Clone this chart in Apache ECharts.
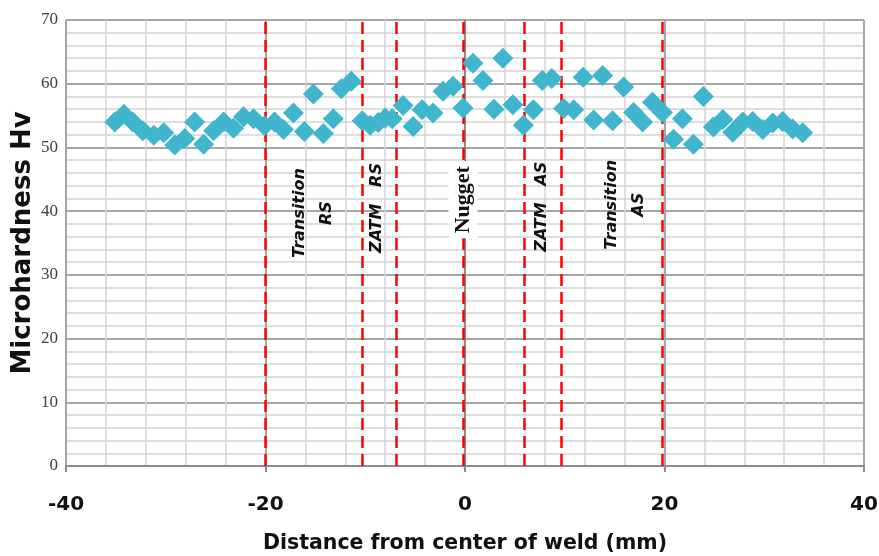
<!DOCTYPE html>
<html>
<head>
<meta charset="utf-8">
<script src="https://cdn.jsdelivr.net/npm/echarts@6/dist/echarts.min.js"></script>
<style>html,body{margin:0;padding:0;background:#fff;}#c{width:879px;height:556px;}</style>
</head>
<body>
<div id="c"></div>
<script>
// Measurement positions (mm from weld centre)
var distances = [-35.1,-34.2,-33.3,-32.3,-31.2,-30.2,-29.1,-28.1,-27.1,-26.2,-25.2,-24.2,-23.2,-22.2,-21.2,-20.1,-19.1,-18.2,-17.2,-16.1,-15.2,-14.2,-13.2,-12.4,-11.4,-10.3,-9.5,-8.7,-8.0,-7.3,-6.2,-5.2,-4.3,-3.2,-2.2,-1.2,-0.2,0.8,1.8,2.9,3.8,4.8,5.85,6.85,7.75,8.7,9.9,10.9,11.85,12.9,13.8,14.8,15.9,16.9,17.8,18.8,19.8,20.9,21.8,22.9,23.9,24.9,25.85,26.85,27.85,28.85,29.85,30.85,31.85,32.85,33.85];
// Microhardness values (Hv)
var hardness = [54.0,55.2,54.0,52.6,51.9,52.3,50.4,51.4,54.0,50.5,52.6,54.0,53.0,54.8,54.5,53.4,54.0,52.8,55.4,52.5,58.4,52.2,54.5,59.2,60.4,54.2,53.5,53.9,54.6,54.5,56.6,53.3,55.9,55.4,58.8,59.6,56.2,63.2,60.5,56.0,64.0,56.7,53.5,55.9,60.5,60.8,56.1,55.9,61.0,54.3,61.3,54.2,59.5,55.5,54.0,57.1,55.5,51.3,54.5,50.5,58.0,53.2,54.4,52.4,54.0,54.05,52.8,53.85,54.05,52.9,52.3];
// Zone boundaries (mm)
var boundaries = [-20, -10.3, -6.9, -0.2, 5.9, 9.6, 19.8];
// Zone annotations
var zoneTexts = ['Transition\nRS', 'ZATM   RS', 'Nugget', 'ZATM   AS', 'Transition\nAS'];
var zoneX = [-15.2, -8.8, -0.2, 7.7, 16.1];
var zoneY = [39.7, 40.5, 41.8, 40.7, 41.0];

var chart = echarts.init(document.getElementById('c'), null, {renderer: 'canvas'});
var points = distances.map(function (d, i) { return [d, hardness[i]]; });

chart.setOption({
  animation: false,
  backgroundColor: '#ffffff',
  grid: {left: 66, right: 15, top: 20, bottom: 90, containLabel: false, outerBoundsMode: 'none'},
  xAxis: {
    type: 'value', min: -40, max: 40, interval: 20,
    name: 'Distance from center of weld (mm)',
    nameLocation: 'middle', nameGap: 67, nameMoveOverlap: false,
    nameTextStyle: {fontFamily: 'DejaVu Sans', fontWeight: 'bold', fontSize: 20.5, color: '#111'},
    axisLine: {show: true, onZero: false, lineStyle: {color: '#8c8c8c', width: 2}},
    axisTick: {show: true, length: 6, lineStyle: {color: '#8c8c8c', width: 2}},
    axisLabel: {margin: 29, fontFamily: 'DejaVu Sans', fontWeight: 'bold', fontSize: 20, color: '#111'},
    splitLine: {show: true, lineStyle: {color: '#a6a6a6', width: 2}},
    minorTick: {show: false, splitNumber: 5},
    minorSplitLine: {show: true, lineStyle: {color: '#d4d4d4', width: 1.5}}
  },
  yAxis: {
    type: 'value', min: 0, max: 70, interval: 10,
    name: 'Microhardness Hv',
    nameLocation: 'middle', nameGap: 30, nameRotate: 90, nameMoveOverlap: false,
    nameTextStyle: {fontFamily: 'DejaVu Sans', fontWeight: 'bold', fontSize: 26, color: '#111'},
    axisLine: {show: true, lineStyle: {color: '#8c8c8c', width: 2}},
    axisTick: {show: false},
    axisLabel: {margin: 8, fontFamily: 'Liberation Serif', fontSize: 17, color: '#404040'},
    splitLine: {show: true, lineStyle: {color: '#a6a6a6', width: 2}},
    minorTick: {show: false, splitNumber: 5},
    minorSplitLine: {show: true, lineStyle: {color: '#d4d4d4', width: 1.5}}
  },
  series: [{
    type: 'scatter',
    symbol: 'diamond',
    symbolSize: 21,
    itemStyle: {color: '#40b6ce', opacity: 1},
    data: points,
    z: 3,
    markLine: {
      silent: true,
      symbol: ['none', 'none'],
      label: {show: false},
      lineStyle: {color: '#ff0000', type: [12, 6], width: 2.5},
      data: boundaries.map(function (b) { return {xAxis: b}; }),
      z: 2
    }
  }]
});

function placeTexts() {
  var els = zoneTexts.map(function (t, i) {
    var p = chart.convertToPixel({gridIndex: 0}, [zoneX[i], zoneY[i]]);
    var isNugget = t === 'Nugget';
    return {
      type: 'text', x: p[0], y: p[1], rotation: Math.PI / 2, z: 10,
      style: {
        text: t, align: 'center', verticalAlign: 'middle',
        font: isNugget ? 'bold 22px "Liberation Serif"' : 'italic bold 16px "DejaVu Sans"',
        fill: '#111',
        lineHeight: 27,
        backgroundColor: isNugget ? '#ffffff' : null,
        padding: isNugget ? [1, 5, 1, 5] : 0
      }
    };
  });
  chart.setOption({graphic: els});
}
placeTexts();
</script>
</body>
</html>
